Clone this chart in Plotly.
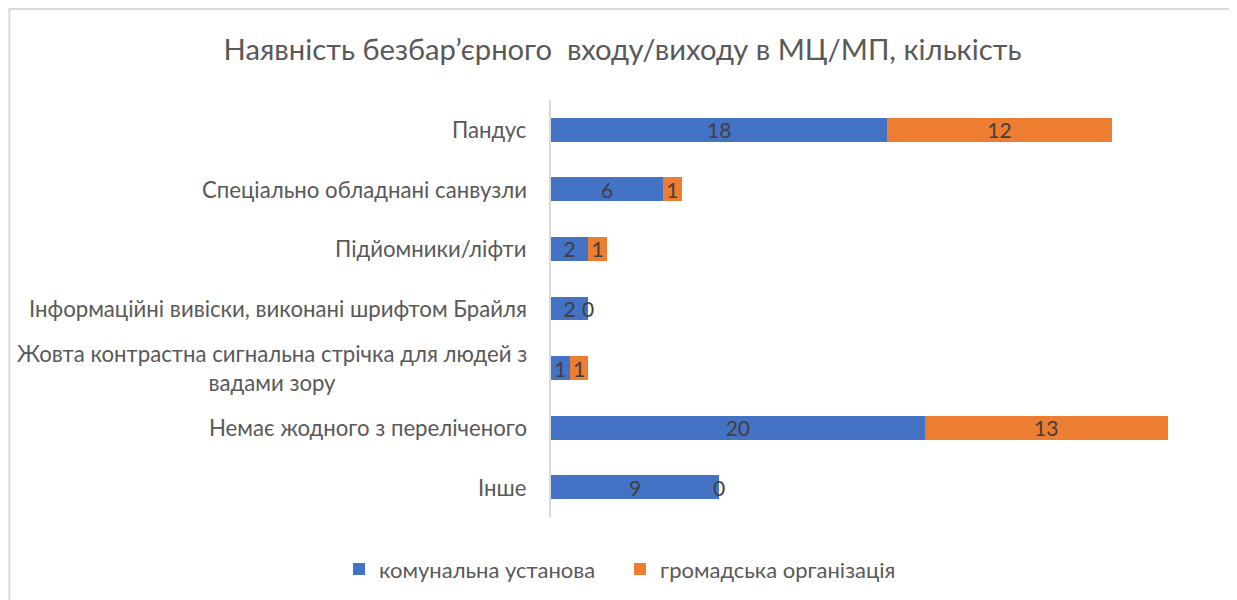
import plotly.graph_objects as go

categories = [
    "Пандус",
    "Спеціально обладнані санвузли",
    "Підйомники/ліфти",
    "Інформаційні вивіски, виконані шрифтом Брайля",
    "Жовта контрастна сигнальна стрічка для людей з<br>вадами зору",
    "Немає жодного з переліченого",
    "Інше",
]
komunalna = [18, 6, 2, 2, 1, 20, 9]
hromadska = [12, 1, 1, 0, 1, 13, 0]
series_names = ["комунальна установа", "громадська організація"]

FONT = "Lato"
LABEL_COLOR = "#404040"
AXIS_COLOR = "#595959"
CAT_SIZE = 22.2
VAL_SIZE = 21

fig = go.Figure()
for vals, name, color in [(komunalna, series_names[0], "#4472C4"),
                          (hromadska, series_names[1], "#ED7D31")]:
    fig.add_trace(go.Bar(
        y=categories, x=vals, orientation="h", name=name,
        marker=dict(color=color, line=dict(width=0)),
        text=[str(v) if v else "" for v in vals],
        textposition="inside", insidetextanchor="middle", textangle=0,
        textfont=dict(family=FONT, size=VAL_SIZE, color=LABEL_COLOR),
        constraintext="none",
    ))

annotations = []
# zero-value labels at the stack end
for c, a, b in zip(categories, komunalna, hromadska):
    if b == 0:
        annotations.append(dict(x=a + b, y=c, xref="x", yref="y", text=str(b),
                                showarrow=False, xanchor="center",
                                font=dict(family=FONT, size=VAL_SIZE, color=LABEL_COLOR)))
# category labels (centered multi-line)
for c in categories:
    annotations.append(dict(x=0, y=c, xref="paper", yref="y", text=c,
                            showarrow=False, xanchor="right", align="center",
                            xshift=-22,
                            font=dict(family=FONT, size=CAT_SIZE, color=AXIS_COLOR)))

fig.update_layout(
    width=1229, height=592,
    barmode="stack", bargap=0.6,
    paper_bgcolor="white", plot_bgcolor="white",
    margin=dict(l=543, r=31.5, t=92, b=83),
    title=dict(text="Наявність безбар’єрного  входу/виходу в МЦ/МП, кількість",
               x=0.5, xanchor="center", y=0.929, yanchor="middle",
               font=dict(family=FONT, size=29.2, color=AXIS_COLOR)),
    xaxis=dict(range=[0, 35], showgrid=False, zeroline=False, showticklabels=False,
               showline=False, fixedrange=True),
    yaxis=dict(autorange="reversed", showticklabels=False, showgrid=False,
               showline=True, linecolor="#d9d9d9", linewidth=1.5, ticks=""),
    legend=dict(orientation="h", x=0.498, xref="container", xanchor="center",
                y=0.052, yref="container", yanchor="middle",
                font=dict(family=FONT, size=22, color=AXIS_COLOR),
                entrywidth=236, entrywidthmode="pixels",
                traceorder="normal"),
    annotations=annotations,
    shapes=[dict(type="rect", xref="paper", yref="paper",
                 x0=-0.8282, x1=1.0405, y0=-0.3, y1=1.2182,
                 line=dict(color="#d9d9d9", width=2), layer="above")],
    showlegend=True,
)

fig.write_html("out.html")
